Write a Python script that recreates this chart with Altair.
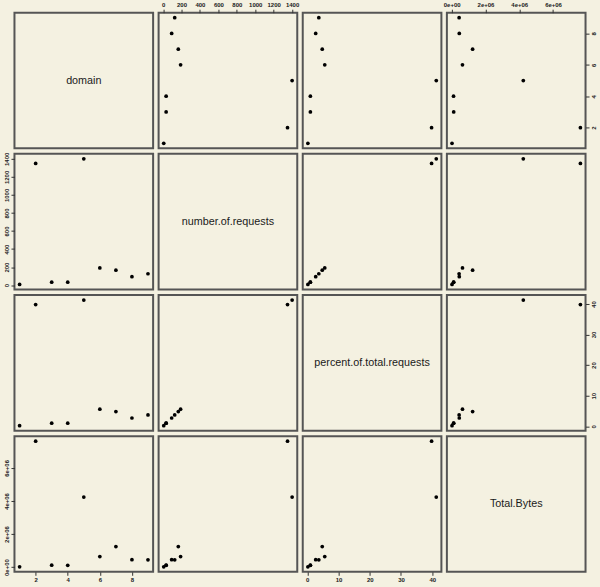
import altair as alt
import pandas as pd

# ---- data ----
domain = [1, 2, 3, 4, 5, 6, 7, 8, 9]
number_of_requests = [7, 1350, 33, 33, 1400, 190, 165, 93, 126]
percent_of_total_requests = [0.2, 39.8, 1.0, 1.0, 41.3, 5.6, 4.8, 2.7, 3.7]
total_bytes = [20000, 7620000, 120000, 110000, 4240000, 640000, 1240000, 450000, 440000]

var_names = ["domain", "number.of.requests", "percent.of.total.requests", "Total.Bytes"]
fields = ["domain", "nreq", "pct", "tbytes"]
tick_values = {
    "domain": [2, 4, 6, 8],
    "nreq": [0, 200, 400, 600, 800, 1000, 1200, 1400],
    "pct": [0, 10, 20, 30, 40],
    "tbytes": [0, 2000000, 4000000, 6000000],
}
label_expr = {
    "tbytes": "datum.value == 0 ? '0e+00' : format(datum.value/1e6, 'd') + 'e+06'",
}

df = pd.DataFrame({
    "domain": domain,
    "nreq": number_of_requests,
    "pct": percent_of_total_requests,
    "tbytes": total_bytes,
})


def ext(f):
    lo, hi = df[f].min(), df[f].max()
    r = hi - lo
    return [lo - 0.04 * r, hi + 0.04 * r]


W, H = 139, 136
BG = "#F4F1E1"


def axis_for(f, orient, show):
    if not show:
        return None
    kw = dict(
        orient=orient, values=tick_values[f], domain=False, grid=False, title=None,
        ticks=True, tickSize=3.5, tickColor="#333", tickWidth=1,
        labelFont="Liberation Sans", labelFontSize=6, labelColor="#222",
        labelPadding=1.5, labelFontWeight="bold", labelOverlap=False, format="d",
    )
    if f in label_expr:
        kw["labelExpr"] = label_expr[f]
    if orient in ("left", "right"):
        kw["labelAngle"] = 270
    return alt.Axis(**kw)


panels = []
n = 4
for i in range(n):        # row -> y variable
    for j in range(n):    # col -> x variable
        if i == j:
            p = alt.Chart(pd.DataFrame({"t": [var_names[i]]})).mark_text(
                font="Liberation Sans", fontSize=10.8, color="#1a1a1a"
            ).encode(
                x=alt.value(W / 2), y=alt.value(H / 2), text="t:N"
            ).properties(width=W, height=H)
        else:
            fx, fy = fields[j], fields[i]
            if j % 2 == 0:
                xa = axis_for(fx, "bottom", i == n - 1)
            else:
                xa = axis_for(fx, "top", i == 0)
            if i % 2 == 0:
                ya = axis_for(fy, "right", j == n - 1)
            else:
                ya = axis_for(fy, "left", j == 0)
            xkw = dict(scale=alt.Scale(domain=ext(fx), nice=False, zero=False))
            ykw = dict(scale=alt.Scale(domain=ext(fy), nice=False, zero=False))
            xkw["axis"] = xa
            ykw["axis"] = ya
            p = alt.Chart(df).mark_circle(size=14, color="black", opacity=1).encode(
                x=alt.X(f"{fx}:Q", **xkw),
                y=alt.Y(f"{fy}:Q", **ykw),
            ).properties(width=W, height=H)
        panels.append(p)

chart = alt.concat(*panels, columns=4, spacing=5.5, bounds="flush").properties(
    padding={"left": 1.5, "top": 0, "right": 2, "bottom": 2},
    background=BG,
).configure_view(
    fill=BG, stroke="#555555", strokeWidth=2
)

chart.save("out.html", embed_options={"renderer": "svg", "actions": False})
